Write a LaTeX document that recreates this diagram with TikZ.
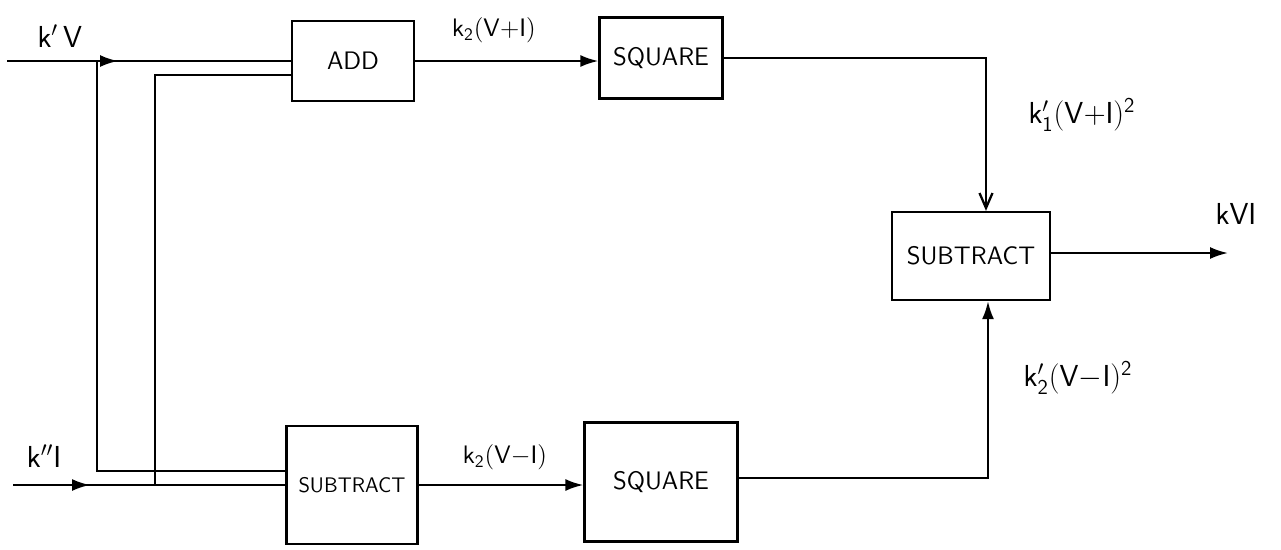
\documentclass[tikz,border=0pt]{standalone}
\usepackage{tikz}
\usetikzlibrary{arrows.meta,positioning,calc}
\tikzset{
  block/.style={draw,line width=1.3pt,align=center,font=\sffamily\Large,inner sep=2pt},
  wire/.style={line width=1.3pt},
  arr/.style={wire,-{Latex[length=3.6mm,width=2.4mm]}},
  openarr/.style={wire,-{Straight Barb[length=3mm,width=2.6mm]}},
  lbl/.style={font=\LARGE,inner sep=1pt}
}

\begin{document}
\begin{tikzpicture}[x=0.02cm,y=-0.02cm]
  \useasboundingbox (0,0) rectangle (1281,549);
  % blocks
  \node[block,minimum width=2.44cm,minimum height=1.6cm] (add) at (353,61) {ADD};
  \node[block,minimum width=2.46cm,minimum height=1.62cm] (sqa) at (661,58) {SQUARE};
  \node[block,minimum width=2.62cm,minimum height=2.36cm,font=\sffamily\large] (suba) at (352,485) {SUBTRACT};
  \node[block,minimum width=3.06cm,minimum height=2.38cm] (sqb) at (661,482) {SQUARE};
  \node[block,minimum width=3.16cm,minimum height=1.76cm] (subb) at (971,256) {SUBTRACT};
  % inputs and junctions
  \coordinate (inV) at (7,61);
  \coordinate (tipV) at (118,61);
  \coordinate (jV) at (97,61);
  \coordinate (inI) at (13,485);
  \coordinate (tipI) at (90,485);
  \coordinate (jI) at (155,485);
  \coordinate (outVI) at (1228,253);
  % labels
  \node[lbl] (lV) at (60,36) {$\mathsf{k'\,V}$};
  \node[lbl] (lI) at (44,456) {$\mathsf{k''I}$};
  \node[lbl,font=\Large] (lsum) at (494,30) {$\mathsf{k_2(V{+}I)}$};
  \node[lbl,font=\Large] (ldif) at (505,457) {$\mathsf{k_2(V{-}I)}$};
  \node[lbl] (lsqa) at (1082,115) {$\mathsf{k_1'(V{+}I)^2}$};
  \node[lbl] (lsqb) at (1078,378) {$\mathsf{k_2'(V{-}I)^2}$};
  \node[lbl] (lout) at (1236,214) {$\mathsf{kVI}$};
  % connectors
  \draw[wire] (inV) -- (add.west);
  \draw[arr] (inV) -- (tipV);
  \draw[wire] (jV) |- ([yshift=0.28cm]suba.west);
  \draw[wire] (inI) -- (suba.west);
  \draw[arr] (inI) -- (tipI);
  \draw[wire] (jI) |- ([yshift=-0.28cm]add.west);
  \draw[arr] (add.east) -- (add.east -| sqa.west);
  \draw[arr] (suba.west -| suba.east) -- (suba.west -| sqb.west);
  \draw[openarr] (sqa.east) -| ([xshift=0.3cm]subb.north);
  \draw[arr] ([yshift=0.08cm]sqb.east) -| ([xshift=0.34cm]subb.south);
  \draw[arr] (subb.east |- outVI) -- (outVI);
\end{tikzpicture}
\end{document}
